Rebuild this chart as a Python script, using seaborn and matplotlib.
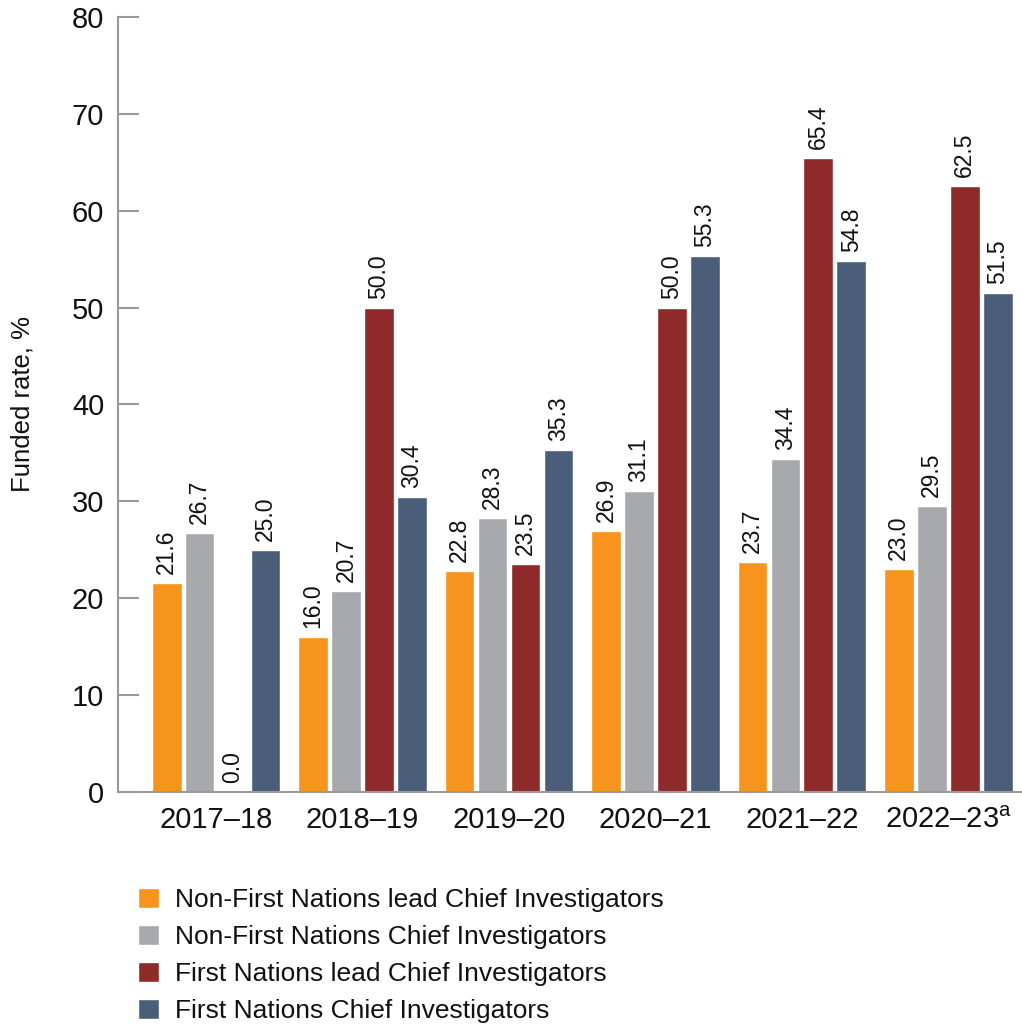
import matplotlib
matplotlib.use("Agg")
import matplotlib.pyplot as plt
import seaborn as sns
import pandas as pd

years = ["2017–18", "2018–19", "2019–20", "2020–21", "2021–22", "2022–23"]
series = ["Non-First Nations lead Chief Investigators",
          "Non-First Nations Chief Investigators",
          "First Nations lead Chief Investigators",
          "First Nations Chief Investigators"]
non_fn_lead = [21.6, 16.0, 22.8, 26.9, 23.7, 23.0]
non_fn = [26.7, 20.7, 28.3, 31.1, 34.4, 29.5]
fn_lead = [0.0, 50.0, 23.5, 50.0, 65.4, 62.5]
fn = [25.0, 30.4, 35.3, 55.3, 54.8, 51.5]
colors = ["#F7941D", "#A7A9AC", "#8E2A29", "#4A5E79"]
yticks = [0, 10, 20, 30, 40, 50, 60, 70, 80]

rows = []
for s, vals in zip(series, [non_fn_lead, non_fn, fn_lead, fn]):
    for y, v in zip(years, vals):
        rows.append({"year": y, "series": s, "value": v})
df = pd.DataFrame(rows)

sns.set_theme(style="white")
plt.rcParams['font.family'] = ['Liberation Sans', 'DejaVu Sans']
plt.rcParams['mathtext.fontset'] = 'custom'
plt.rcParams['mathtext.rm'] = 'Liberation Sans'
plt.rcParams['text.color'] = '#111111'
plt.rcParams['axes.labelcolor'] = '#111111'
plt.rcParams['xtick.color'] = '#111111'
plt.rcParams['ytick.color'] = '#111111'

fig = plt.figure(figsize=(10.22, 10.32), dpi=100)
ax = fig.add_axes([0.1155, 0.2326, 0.884, 0.751])

sns.barplot(data=df, x="year", y="value", hue="series", order=years,
            hue_order=series, palette=colors, width=0.9, gap=0.1,
            saturation=1, ax=ax, legend=True)

for cont in ax.containers:
    ax.bar_label(cont, labels=[f"{b.get_height():.1f}" for b in cont],
                 rotation=90, padding=6.5, fontsize=16.5, color="#111111")

ax.set_ylim(0, 80)
ax.set_xlim(-0.67, 5.5)
ax.set_yticks(yticks)
ax.set_yticklabels([str(t) for t in yticks], fontsize=21)
labels = years[:-1] + [years[-1] + r"$^{\mathrm{a}}$"]
ax.set_xticks(range(len(years)))
ax.set_xticklabels(labels, fontsize=21)
ax.tick_params(axis="y", left=True, direction="in", length=15, width=1.5,
               color="#9a9a9a", labelcolor="#111111", pad=10)
ax.tick_params(axis="x", length=0, pad=10, labelcolor="#111111")
ax.set_xlabel("")
ax.set_ylabel("Funded rate, %", fontsize=18.5, labelpad=27, color="#111111")
for side in ["top", "right"]:
    ax.spines[side].set_visible(False)
for side in ["left", "bottom"]:
    ax.spines[side].set_color("#9a9a9a")
    ax.spines[side].set_linewidth(1.5)

handles, lbls = ax.get_legend_handles_labels()
ax.get_legend().remove()
leg = fig.legend(handles, lbls, loc="upper left", bbox_to_anchor=(0.125, 0.15),
                 frameon=False, fontsize=19, handlelength=0.8, handleheight=0.8,
                 handletextpad=0.6, labelspacing=0.48, borderaxespad=0)
for t in leg.get_texts():
    t.set_color("#111111")

fig.savefig("out.png", dpi=100, facecolor="white")
